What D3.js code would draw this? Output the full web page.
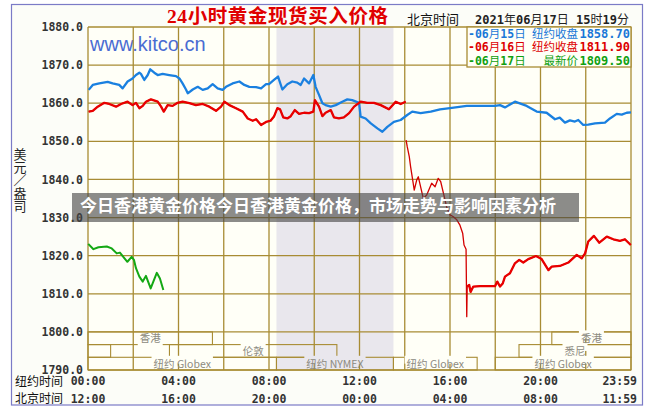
<!DOCTYPE html>
<html><head><meta charset="utf-8">
<script src="https://cdn.jsdelivr.net/npm/d3@7"></script>
<style>body{margin:0;background:#fff;} svg{display:block;}</style>
</head><body><svg id="c" width="652" height="416"></svg>
<script>
// ---------------- data ----------------
const yTicks = [1880,1870,1860,1850,1840,1830,1820,1810,1800,1790];
const gridHours = [0,2,4,6,8,10,12,14,16,18,20,22,24];
const nyTickHours = [0,4,8,12,16,20,24];
const nyTickLabels = ["00:00","04:00","08:00","12:00","16:00","20:00","23:59"];
const bjTickLabels = ["12:00","16:00","20:00","00:00","04:00","08:00","11:59"];
const legendDates = ["-06月15日","-06月16日","-06月17日"];
const legendNames = ["纽约收盘","纽约收盘","最新价"];
const legendValues = ["1858.70","1811.90","1809.50"];
const nymexHours = [8.33, 13.5];
const sessionNames = ["香港","香港","","伦敦","悉尼","纽约 Globex","纽约 NYMEX","纽约 Globex","纽约 Globex"];
const sessionRows  = [0,0,1,1,1,2,2,2,2];
const sessionStart = [0,20.5,0,3.6,19.05,0,8.33,13.5,18];
const sessionEnd   = [5.5,24,1.0,11,24,8.33,13.5,17.2,24];

const blue0615 = [
[0.03,1863.5],[0.21,1864.8],[0.5,1865.2],[0.87,1865.6],[1.09,1865.2],[1.38,1864.8],[1.53,1863.9],[1.75,1865.7],[1.97,1866.5],[2.12,1867.4],[2.27,1868.0],[2.34,1867.7],[2.49,1866.1],[2.64,1867.4],[2.75,1868.9],[2.93,1868.0],[3.08,1867.4],[3.30,1867.7],[3.59,1867.4],[3.89,1867.1],[4.04,1866.5],[4.18,1865.2],[4.33,1863.6],[4.41,1862.6],[4.63,1863.6],[4.85,1864.3],[5.07,1863.5],[5.29,1863.9],[5.51,1865.0],[5.73,1863.9],[5.95,1863.5],[6.10,1864.3],[6.39,1865.2],[6.69,1865.7],[6.91,1864.8],[7.13,1864.3],[7.43,1864.2],[7.65,1863.9],[7.87,1865.0],
[8.0,1865.0],[8.22,1866.1],[8.4,1867.0],[8.59,1863.6],[8.81,1865.0],[9.03,1865.7],[9.25,1865.4],[9.4,1864.8],[9.55,1866.5],[9.77,1865.2],[9.96,1867.4],[10.06,1864.3],[10.21,1862.2],[10.36,1860.0],[10.5,1859.5],[10.73,1859.1],[10.95,1859.5],[11.24,1860.4],[11.46,1861.0],[11.68,1860.8],[11.98,1860.1],[12.05,1856.5],[12.27,1856.0],[12.5,1854.7],[12.79,1853.4],[13.01,1852.5],[13.23,1853.8],[13.52,1855.1],[13.82,1855.6],[14.11,1856.9],[14.33,1857.8],[14.7,1857.4],[15.15,1857.8],[15.56,1858.4],[16.0,1858.7],[16.74,1859.3],[17.99,1859.3],[18.21,1859.5],[18.43,1858.9],[18.87,1860.4],[19.39,1859.3],[19.83,1857.8],[20.27,1857.5],[20.64,1855.8],[20.85,1856.2],[21.08,1854.9],[21.3,1855.5],[21.52,1855.2],[21.67,1855.6],[21.89,1854.3],[22.11,1854.4],[22.41,1854.7],[22.85,1854.9],[23.07,1856.0],[23.37,1857.2],[23.59,1857.0],[23.81,1857.5],[24,1857.6]
];
const red0616 = [
[0.03,1857.8],[0.21,1858.0],[0.43,1859.1],[0.72,1860.1],[0.94,1859.8],[1.24,1859.1],[1.46,1859.8],[1.75,1860.4],[1.97,1859.5],[2.12,1860.1],[2.27,1858.7],[2.42,1859.3],[2.56,1860.4],[2.78,1861.0],[3.08,1860.4],[3.23,1859.1],[3.35,1857.8],[3.52,1859.5],[3.74,1859.3],[3.96,1860.1],[4.18,1860.4],[4.48,1860.0],[4.77,1859.5],[5.07,1859.8],[5.36,1859.1],[5.66,1858.0],[5.88,1859.1],[6.03,1860.4],[6.25,1859.5],[6.54,1858.7],[6.84,1857.8],[7.06,1856.0],[7.28,1855.4],[7.43,1855.8],[7.65,1854.3],[7.87,1855.1],[8.07,1855.4],[8.22,1856.5],[8.37,1858.7],[8.49,1858.4],[8.63,1856.3],[8.81,1856.0],[8.96,1856.6],[9.14,1858.2],[9.33,1857.2],[9.55,1857.5],[9.77,1857.4],[9.96,1857.8],[10.03,1860.8],[10.21,1859.1],[10.36,1856.6],[10.5,1857.5],[10.73,1858.2],[10.87,1856.3],[11.09,1856.0],[11.31,1856.3],[11.54,1857.4],[11.76,1859.1],[12.05,1860.4],[12.35,1860.1],[12.64,1860.1],[12.94,1859.5],[13.30,1858.4],[13.6,1860.4],[13.82,1859.8],[14.04,1860.4],[14.05,null],
[14.06,1850.3],[14.11,1848.6],[14.2,1846.0],[14.26,1843.3],[14.35,1839.9],[14.42,1837.2],[14.53,1839.9],[14.6,1840.7],[14.75,1836.8],[14.82,1835.0],[14.97,1835.9],[15.19,1839.0],[15.34,1838.1],[15.48,1840.3],[15.59,1839.4],[15.73,1835.9],[15.85,1832.8],[16.0,1830.7],[16.15,1830.2],[16.3,1829.4],[16.44,1828.0],[16.56,1825.9],[16.62,1822.8],[16.71,1821.7],[16.74,1804.0],[16.76,1811.9],[16.85,1812.3],[16.91,1810.5],[17.03,1811.9],[17.33,1812.0],[17.99,1812.0],[18.09,1813.2],[18.21,1811.9],[18.33,1812.7],[18.43,1814.5],[18.65,1815.4],[18.87,1818.0],[19.06,1818.9],[19.24,1818.2],[19.46,1819.1],[19.8,1819.9],[20.05,1819.1],[20.35,1816.2],[20.49,1817.1],[20.86,1817.3],[21.23,1818.2],[21.6,1820.2],[21.82,1819.3],[21.97,1820.6],[22.11,1823.7],[22.36,1825.2],[22.6,1823.4],[22.93,1825.0],[23.22,1824.3],[23.51,1823.9],[23.73,1824.3],[23.99,1822.8]
];
const green0617 = [
[0.01,1823.1],[0.24,1821.7],[0.46,1822.2],[0.83,1822.4],[1.05,1821.9],[1.27,1820.6],[1.41,1820.8],[1.56,1819.7],[1.74,1818.4],[1.93,1819.7],[2.03,1818.9],[2.12,1816.7],[2.27,1814.5],[2.42,1813.2],[2.56,1814.7],[2.77,1811.4],[3.04,1815.5],[3.18,1814.0],[3.33,1811.0]
];

// ---------------- drawing ----------------
const svg = d3.select("#c");
const gridColor = "#a88c34";
const mono = "'DejaVu Sans Mono', monospace";
const cjk = "'Noto Sans CJK SC', sans-serif";
const x = d3.scaleLinear().domain([0,24]).range([88,631]);
const y = d3.scaleLinear().domain([1790,1880]).range([370,27]);

function runs(sel, str, opt) {
  const parts = str.match(/[\x00-\x7F]+|[^\x00-\x7F]+/g);
  parts.forEach(p => {
    const ascii = /^[\x00-\x7F]+$/.test(p);
    sel.append("tspan").text(p)
      .attr("font-family", ascii ? opt.aFont : opt.cFont)
      .attr("font-weight", ascii ? opt.aWeight : opt.cWeight)
      .attr("font-size", ascii ? opt.aSize : opt.cSize);
  });
}

// backgrounds
svg.append("rect").attr("x",11.5).attr("y",4.5).attr("width",631).attr("height",400.5)
  .attr("fill","#fcfdf8").attr("stroke","#7b7bc7").attr("stroke-width",1.2);
svg.append("rect").attr("x",x(0)).attr("y",y(1880)).attr("width",x(24)-x(0)).attr("height",y(1790)-y(1880))
  .attr("fill","#fffff7");
svg.append("rect").attr("x",x(nymexHours[0])).attr("y",y(1880))
  .attr("width",x(nymexHours[1])-x(nymexHours[0])).attr("height",y(1790)-y(1880))
  .attr("fill","#e9e7ed");

// watermark site
svg.append("text").attr("x",90).attr("y",51).text("www.kitco.cn")
  .attr("font-family","'Liberation Sans', Arial, sans-serif").attr("font-size",20).attr("fill","#4a6cd2");

// grid
const g = svg.append("g").attr("stroke",gridColor).attr("stroke-width",1.3);
g.selectAll("line.v").data(gridHours).join("line").attr("class","v")
  .attr("x1",d=>x(d)).attr("x2",d=>x(d)).attr("y1",y(1880)).attr("y2",y(1790));
g.selectAll("line.h").data(yTicks).join("line").attr("class","h")
  .attr("x1",x(0)).attr("x2",x(24)).attr("y1",d=>y(d)).attr("y2",d=>y(d));

// sessions
const rowH = (y(1790)-y(1800))/3;
const sessG = svg.append("g");
sessionNames.forEach((name,i) => {
  const r = sessionRows[i];
  const top = y(1800) + r*rowH, bot = top + rowH;
  const x0 = x(sessionStart[i]), x1 = x(sessionEnd[i]);
  sessG.append("rect").attr("x",x0).attr("y",top).attr("width",x1-x0).attr("height",rowH)
    .attr("fill","none").attr("stroke",gridColor).attr("stroke-width",1.1);
  if (name) {
    const cx = (x0+x1)/2, cy = (top+bot)/2;
    const bg = sessG.append("rect");
    const t = sessG.append("text").attr("x",cx).attr("y",cy+4).attr("text-anchor","middle")
      .attr("font-family","'Noto Sans CJK SC','Liberation Sans',sans-serif").attr("font-size",10.5)
      .attr("fill","#8c8a80").text(name);
    const w = t.node().getComputedTextLength()+4;
    const gapBottom = (r===0 && sessionStart[i]===0);
    const inShade = cx > x(nymexHours[0]) && cx < x(nymexHours[1]);
    bg.attr("x",cx-w/2).attr("width",w)
      .attr("y", gapBottom ? cy : top-1.5).attr("height", rowH/2+1.5)
      .attr("fill", inShade ? "#e9e7ed" : "#fffff7");
  }
});

// lines
const line = d3.line().defined(d=>d[1]!==null).x(d=>x(d[0])).y(d=>y(d[1]));
svg.append("path").datum(blue0615).attr("d",line).attr("fill","none")
  .attr("stroke","#1a80e0").attr("stroke-width",2.3).attr("stroke-linejoin","round");
svg.append("path").datum(red0616).attr("d",line).attr("fill","none")
  .attr("stroke","#d40000").attr("stroke-width",1.3).attr("stroke-linejoin","round");
const thick = d3.line().defined(d=>d[1]!==null && (d[0]<14.05 || d[0]>=16.76)).x(d=>x(d[0])).y(d=>y(d[1]));
svg.append("path").datum(red0616).attr("d",thick).attr("fill","none")
  .attr("stroke","#e80000").attr("stroke-width",2.3).attr("stroke-linejoin","round");
svg.append("path").datum(green0617).attr("d",line).attr("fill","none")
  .attr("stroke","#14a814").attr("stroke-width",2).attr("stroke-linejoin","round");

// legend
svg.append("rect").attr("x",467).attr("y",27).attr("width",164).attr("height",40)
  .attr("fill","#fffff7").attr("stroke",gridColor).attr("stroke-width",1.3);
const legColors = ["#1a78d8","#dd0000","#10a010"];
legendDates.forEach((d,i) => {
  const by = 37.5 + i*13.75;
  const o = {aFont:mono,aWeight:"bold",aSize:11.5,cFont:cjk,cWeight:"normal",cSize:11.5};
  runs(svg.append("text").attr("x",468).attr("y",by).attr("fill",legColors[i]), d, o);
  svg.append("text").attr("x",578).attr("y",by).attr("text-anchor","end").attr("fill",legColors[i])
    .attr("font-family",cjk).attr("font-size",11.5).text(legendNames[i]);
  svg.append("text").attr("x",630).attr("y",by).attr("text-anchor","end").attr("fill",legColors[i])
    .attr("font-family",mono).attr("font-weight","bold").attr("font-size",12).text(legendValues[i]);
});

// title & header
svg.append("text").attr("x",167).attr("y",23).attr("fill","#e00000")
  .attr("font-family","'Liberation Serif','Noto Sans CJK SC',serif").attr("font-weight","bold")
  .attr("font-size",19.5).attr("textLength",221).attr("lengthAdjust","spacing")
  .text("24小时黄金现货买入价格");
svg.append("text").attr("x",407).attr("y",24).attr("font-family",cjk).attr("font-size",13)
  .attr("fill","#111").text("北京时间");
runs(svg.append("text").attr("x",475).attr("y",24).attr("fill","#222"),
  "2021年06月17日 15时19分", {aFont:mono,aWeight:"bold",aSize:12,cFont:cjk,cWeight:"normal",cSize:12});

// y axis labels
svg.append("g").selectAll("text").data(yTicks).join("text")
  .attr("x",83).attr("y",d=>y(d)).attr("dy","0.36em").attr("text-anchor","end")
  .attr("font-family",mono).attr("font-weight","bold").attr("font-size",11.5).attr("fill","#333")
  .text(d=>d.toFixed(1));
// unit (vertical text)
svg.append("text").attr("x",20).attr("y",148)
  .attr("writing-mode","tb").style("writing-mode","vertical-rl").style("text-orientation","upright")
  .attr("font-family",cjk).attr("font-size",13).attr("fill","#222").text("美元／盎司");

// x axis labels
svg.append("text").attr("x",15).attr("y",386).attr("font-family",cjk).attr("font-size",12).attr("fill","#111").text("纽约时间");
svg.append("text").attr("x",15).attr("y",402.5).attr("font-family",cjk).attr("font-size",12).attr("fill","#111").text("北京时间");
[nyTickLabels, bjTickLabels].forEach((labels,row) => {
  svg.append("g").selectAll("text").data(nyTickHours).join("text")
    .attr("x",(d,i)=> i===nyTickHours.length-1 ? 637 : x(d))
    .attr("y", row===0 ? 385 : 402.5)
    .attr("text-anchor",(d,i)=> i===nyTickHours.length-1 ? "end" : "middle")
    .attr("font-family",mono).attr("font-weight","bold").attr("font-size",11.5).attr("fill","#333")
    .text((d,i)=>labels[i]);
});

// banner overlay
svg.append("rect").attr("x",72).attr("y",193).attr("width",507).attr("height",29)
  .attr("fill","rgba(70,70,70,0.62)");
svg.append("text").attr("x",80).attr("y",211.5).attr("font-family",cjk).attr("font-weight","bold")
  .attr("font-size",17).attr("fill","#ffffff").text("今日香港黄金价格今日香港黄金价格，市场走势与影响因素分析");
</script></body></html>
